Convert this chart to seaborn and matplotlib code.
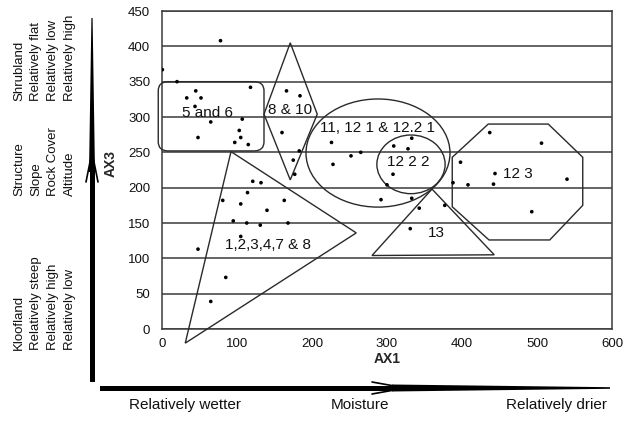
import numpy as np
import pandas as pd
import matplotlib
matplotlib.use("Agg")
import matplotlib.pyplot as plt
import seaborn as sns
from matplotlib.patches import Polygon, Ellipse, FancyBboxPatch

# ---------------- data ----------------
ax1_vals = [78, 0.5, 20, 45, 33, 52, 44, 118, 65, 48, 103, 105, 97, 115, 107,
            166, 184, 160, 175, 177, 183,
            226, 252, 265, 228,
            121, 132, 114, 81, 105, 163, 140, 95, 113, 131, 168, 105, 48, 85, 65,
            309, 328, 333, 308, 300, 292, 333, 343, 377, 331,
            398, 388, 408, 444, 442, 540, 493, 437, 506]
ax3_vals = [408, 367, 350, 337, 327, 327, 315, 342, 293, 271, 281, 271, 264, 261, 297,
            337, 330, 278, 239, 219, 252,
            264, 245, 250, 233,
            209, 207, 193, 182, 177, 182, 168, 153, 150, 147, 150, 131, 113, 73, 39,
            259, 255, 270, 219, 204, 183, 185, 171, 175, 142,
            236, 207, 204, 220, 205, 212, 166, 278, 263]

x_ticks = [0, 100, 200, 300, 400, 500, 600]
y_ticks = [0, 50, 100, 150, 200, 250, 300, 350, 400, 450]

# group outlines (data units)
rect_56 = [-5, 252, 141, 98]                       # x, y, width, height
diamond_810 = [(171, 405), (207, 304), (171, 211), (136, 304)]
ellipse_big = [288, 249, 192, 153]                 # cx, cy, w, h
ellipse_small = [332, 233, 91, 83]
tri_big = [(92, 251), (259, 136), (31, -20)]
tri_13 = [(360, 198), (443, 105), (280, 104)]
octagon_123 = [(435, 290), (515, 290), (561, 243), (561, 175),
               (517, 126), (436, 126), (387, 173), (387, 243)]

group_labels = ["5 and 6", "8 & 10", "11, 12 1 & 12.2 1", "12 2 2",
                "1,2,3,4,7 & 8", "13", "12 3"]
label_x = [61, 171, 287, 328, 141, 366, 475]
label_y = [306, 310, 284, 236, 119, 136, 220]

left_blocks = ["Shrubland\nRelatively flat\nRelatively low\nRelatively high",
               "Structure\nSlope\nRock Cover\nAltitude",
               "Kloofland\nRelatively steep\nRelatively high\nRelatively low"]
bottom_labels = ["Relatively wetter", "Moisture", "Relatively drier"]

# ---------------- figure ----------------
sns.set_style("white")
plt.rcParams['font.family'] = ['Liberation Sans', 'DejaVu Sans']

W, H = 634, 424
fig = plt.figure(figsize=(W / 100, H / 100), dpi=100)
ax = fig.add_axes([162 / W, 1 - 329 / H, 450 / W, 318 / H])

df = pd.DataFrame({"AX1": ax1_vals, "AX3": ax3_vals})
sns.scatterplot(data=df, x="AX1", y="AX3", ax=ax, color="black", s=7,
                edgecolor="none", zorder=5)

ax.set_xlim(0, 600)
ax.set_ylim(0, 450)
ax.set_xticks(x_ticks)
ax.set_yticks(y_ticks)
ax.tick_params(axis="both", labelsize=9.5, length=4, width=0.8, color="#333333",
               direction="out", pad=4.5, labelcolor="#111111")
ax.tick_params(axis="x", length=0, pad=6.5)
for yv in y_ticks:
    ax.axhline(yv, color="#3a3a3a", lw=1.1, zorder=1)
for s in ["left", "right", "top", "bottom"]:
    ax.spines[s].set_visible(True)
    ax.spines[s].set_color("#3a3a3a")
    ax.spines[s].set_linewidth(1.1)

ax.set_xlabel("AX1", fontsize=10, fontweight="bold", va="top")
ax.xaxis.set_label_coords(0.5, -0.073)
ax.set_ylabel("AX3", fontsize=10, fontweight="bold")
ax.yaxis.set_label_coords(-0.098, 0.52)

lc = "#2a2a2a"
lw = 1.0
ax.add_patch(FancyBboxPatch((rect_56[0], rect_56[1]), rect_56[2], rect_56[3],
                            boxstyle="round,pad=0,rounding_size=13",
                            fill=False, ec=lc, lw=lw, clip_on=False, zorder=3))
ax.add_patch(Polygon(diamond_810, closed=True, fill=False, ec=lc, lw=lw, zorder=3))
ax.add_patch(Ellipse((ellipse_big[0], ellipse_big[1]), ellipse_big[2], ellipse_big[3],
                     fill=False, ec=lc, lw=lw, zorder=3))
ax.add_patch(Ellipse((ellipse_small[0], ellipse_small[1]), ellipse_small[2], ellipse_small[3],
                     fill=False, ec=lc, lw=lw, zorder=3))
ax.add_patch(Polygon(tri_big, closed=True, fill=False, ec=lc, lw=lw, clip_on=False, zorder=3))
ax.add_patch(Polygon(tri_13, closed=True, fill=False, ec=lc, lw=lw, zorder=3))
ax.add_patch(Polygon(octagon_123, closed=True, fill=False, ec=lc, lw=lw, zorder=3))

for t, x, y in zip(group_labels, label_x, label_y):
    ax.text(x, y, t, fontsize=11, ha="center", va="center", color="#111111", zorder=6)

# ---------------- outside annotations (pixel coords) ----------------
def P(px, py):
    return (px / W, 1 - py / H)

# left text blocks
block_bottoms = [101, 196, 350]
for txt, yb in zip(left_blocks, block_bottoms):
    fig.text(*P(13, yb), txt, rotation=90, ha="left", va="bottom",
             multialignment="left", fontsize=9.5, linespacing=1.56, color="#111111")

# bottom labels
for txt, xc in zip(bottom_labels, [185, 360, 557]):
    fig.text(*P(xc, 405), txt, ha="center", va="center", fontsize=11, color="#111111")

def poly(pts, **kw):
    fig.add_artist(Polygon([P(*p) for p in pts], closed=True,
                           transform=fig.transFigure, **kw))

def line(pts, **kw):
    xs, ys = zip(*[P(*p) for p in pts])
    fig.add_artist(plt.Line2D(xs, ys, transform=fig.transFigure, **kw))

# horizontal arrow
yA = 388
poly([(100, yA - 2.5), (395, yA - 2.5), (395, yA + 2.5), (100, yA + 2.5)], fc="black", ec="none")
poly([(392, yA - 3.5), (610, yA - 0.8), (610, yA + 0.8), (392, yA + 3.5)], fc="black", ec="none")
line([(372, yA - 6), (400, yA - 1)], color="black", lw=1.2)
line([(372, yA + 6), (400, yA + 1)], color="black", lw=1.2)

# vertical arrow
xA = 92
poly([(xA - 2.5, 382), (xA - 2.5, 168), (xA + 2.5, 168), (xA + 2.5, 382)], fc="black", ec="none")
poly([(xA - 3.0, 172), (xA - 0.6, 18), (xA + 0.6, 18), (xA + 3.0, 172)], fc="black", ec="none")
line([(xA - 6, 182), (xA - 1, 157)], color="black", lw=1.2)
line([(xA + 6, 182), (xA + 1, 157)], color="black", lw=1.2)

fig.savefig("out.png", dpi=100)
